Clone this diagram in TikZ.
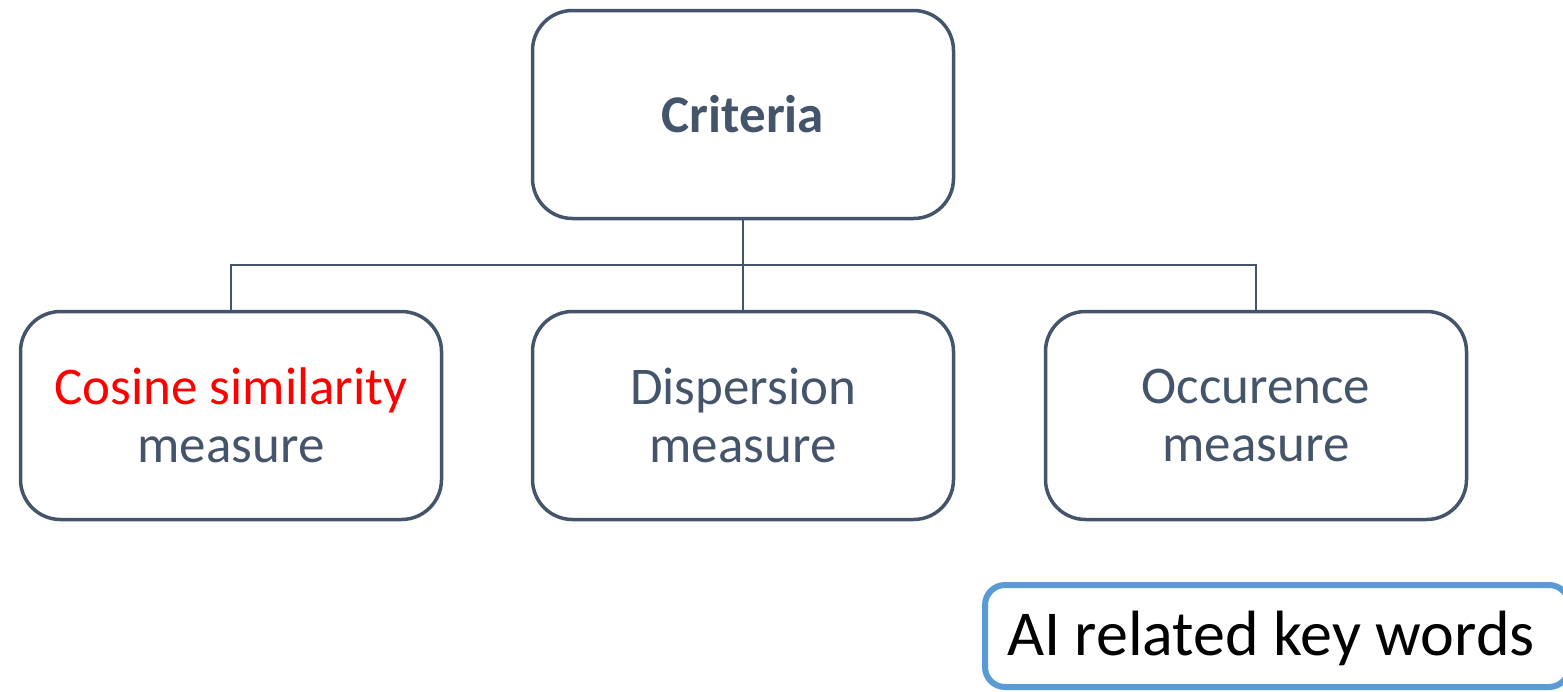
\documentclass[tikz,border=0pt]{standalone}
\usepackage{fontspec}
\setmainfont{Carlito}
\definecolor{slate}{HTML}{44546A}
\definecolor{boxblue}{HTML}{5B9BD5}
\definecolor{redtxt}{HTML}{FF0000}
\tikzset{
  card/.style={draw=slate, line width=3.5pt, rounded corners=40pt, fill=white,
    minimum width=421pt, minimum height=208pt, inner sep=0pt, align=center,
    text=slate, font=\fontsize{53}{58}\selectfont},
  link/.style={draw=slate, line width=2pt},
  tagbox/.style={draw=boxblue, line width=6pt, rounded corners=20pt, fill=white,
    minimum width=584pt, minimum height=102pt, inner sep=0pt}
}
\begin{document}
\begin{tikzpicture}[x=1pt,y=-1pt]
  \useasboundingbox (0,0) rectangle (1563,691);
  \begin{scope}
    \clip (0,0) rectangle (1563,691);
    % tree of criteria
    \node[card, font=\fontsize{53}{58}\selectfont\bfseries] (top) at (743,114.5) {Criteria};
    \node[card] (cos) at (231,415.5) {\textcolor{redtxt}{Cosine similarity}\\measure};
    \node[card] (disp) at (743,415.5) {Dispersion\\measure};
    \node[card] (occ) at (1256,415.5) {Occurence\\measure};
    \coordinate (j) at (743,265);
    \draw[link] (top.south) -- (j);
    \draw[link] (cos.north) |- (j) -| (occ.north);
    \draw[link] (j) -- (disp.north);
    % key words label, cut off at the right edge
    \node[tagbox, anchor=west] (kw) at (982,636) {};
    \node[font=\fontsize{64}{70}\selectfont, text=black, anchor=west, inner sep=0pt] (kwt) at (1007,638) {AI related key words};
  \end{scope}
\end{tikzpicture}
\end{document}
